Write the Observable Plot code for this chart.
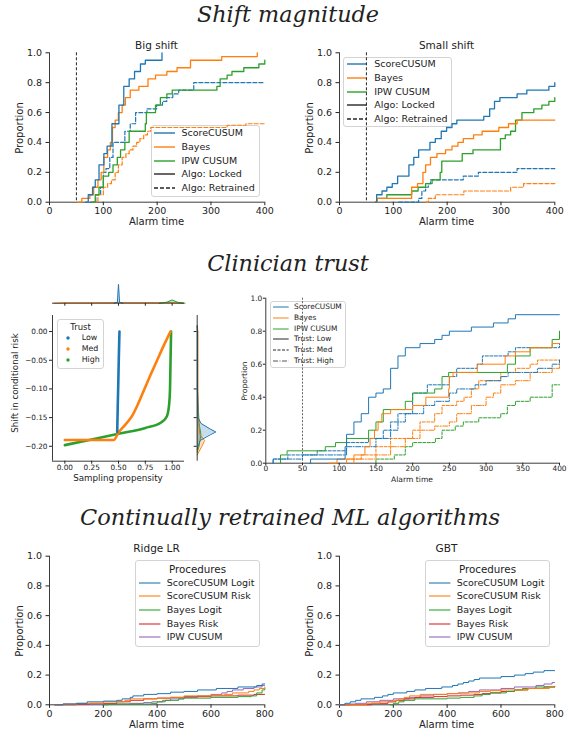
<!DOCTYPE html>
<html><head><meta charset="utf-8">
<script src="https://cdn.jsdelivr.net/npm/d3@7"></script>
<script src="https://cdn.jsdelivr.net/npm/@observablehq/plot@0.6"></script>
<style>
body{margin:0;background:#fff;}
#root{position:relative;width:575px;height:737px;overflow:hidden;font-family:"DejaVu Sans",sans-serif;color:#222;background:#fff;}
.t{position:absolute;white-space:nowrap;line-height:1;color:#222;}
.leg{position:absolute;background:rgba(255,255,255,0.8);border:1px solid #d4d4d4;border-radius:3px;box-sizing:border-box;}
</style></head><body><div id="root"></div>
<script>
// ---------- tick labels ----------
const shiftTicks = [0, 100, 200, 300, 400];
const trustTicks = [0, 50, 100, 150, 200, 250, 300, 350, 400];
const mlTicks = [0, 200, 400, 600, 800];
const propTicks = [0, 0.2, 0.4, 0.6, 0.8, 1.0];
const propensityTicks = [0, 0.25, 0.5, 0.75, 1.0];
const riskTicks = [-0.2, -0.15, -0.1, -0.05, 0];
const changeTime = [50];

// ---------- Shift magnitude: Big shift [alarm time, proportion] ----------
const bigScoreLocked = [[67,0],[72,0.05],[80,0.1],[85,0.15],[92,0.25],[101,0.325],[107,0.375],[116,0.525],[129,0.65],[138,0.775],[148,0.825],[158,0.875],[169,0.925],[178,0.95],[209,1.0]];
const bigBayesLocked = [[53,0],[60,0.025],[75,0.05],[82,0.1],[90,0.15],[96,0.2],[101,0.3],[108,0.35],[113,0.4],[117,0.5],[122,0.55],[128,0.6],[135,0.65],[141,0.7],[150,0.75],[166,0.775],[183,0.825],[197,0.85],[218,0.875],[237,0.9],[262,0.95],[320,0.975],[386,1.0]];
const bigIpwLocked = [[80,0],[85,0.05],[92,0.1],[100,0.175],[110,0.2],[118,0.25],[126,0.3],[132,0.35],[140,0.4],[148,0.475],[178,0.525],[180,0.6],[197,0.65],[206,0.7],[218,0.725],[228,0.75],[311,0.775],[317,0.825],[330,0.85],[339,0.875],[361,0.9],[389,0.925],[400,0.95]];
const bigScoreRetrained = [[76,0],[86,0.05],[95,0.1],[100,0.2],[105,0.225],[112,0.3],[118,0.4],[140,0.475],[150,0.525],[160,0.6],[181,0.625],[199,0.65],[210,0.675],[218,0.7],[229,0.725],[240,0.75],[268,0.8],[400,0.8]];
const bigBayesRetrained = [[80,0],[90,0.05],[100,0.1],[108,0.125],[115,0.15],[122,0.2],[128,0.25],[135,0.3],[142,0.325],[148,0.35],[155,0.375],[162,0.4],[168,0.425],[175,0.45],[182,0.475],[188,0.5],[330,0.515],[365,0.525],[400,0.525]];

// ---------- Shift magnitude: Small shift ----------
const smallScoreLocked = [[67,0],[69,0.05],[79,0.075],[88,0.1],[98,0.125],[108,0.175],[129,0.25],[138,0.3],[147,0.35],[168,0.4],[178,0.425],[189,0.475],[199,0.5],[209,0.525],[218,0.55],[268,0.575],[279,0.625],[288,0.675],[298,0.7],[330,0.725],[348,0.75],[389,0.775],[400,0.8]];
const smallBayesLocked = [[67,0],[70,0.025],[134,0.1],[145,0.125],[155,0.2],[160,0.25],[169,0.3],[181,0.325],[197,0.35],[209,0.375],[220,0.4],[230,0.425],[249,0.45],[265,0.475],[296,0.5],[314,0.525],[330,0.55],[400,0.55]];
const smallIpwLocked = [[67,0],[70,0.025],[88,0.05],[134,0.075],[146,0.1],[160,0.125],[172,0.15],[187,0.2],[190,0.275],[228,0.325],[248,0.35],[299,0.425],[308,0.45],[318,0.475],[327,0.55],[339,0.6],[361,0.625],[376,0.65],[389,0.675],[400,0.7]];
const smallScoreRetrained = [[110,0],[147,0.025],[153,0.075],[160,0.1],[165,0.125],[169,0.15],[230,0.175],[258,0.2],[330,0.225],[400,0.225]];
const smallBayesRetrained = [[160,0],[165,0.025],[178,0.05],[231,0.075],[318,0.1],[342,0.125],[400,0.125]];

// ---------- Clinician trust: sampling propensity vs shift ----------
const scatterLow = [[0.488,-0.175],[0.493,-0.13],[0.498,-0.09],[0.503,-0.045],[0.509,0.0]];
const scatterMed = [[0.0,-0.189],[0.456,-0.189],[0.5,-0.176],[0.56,-0.163],[0.627,-0.147],[0.685,-0.125],[0.742,-0.1],[0.8,-0.075],[0.86,-0.05],[0.92,-0.025],[0.984,0.0]];
const scatterHigh = [[0.0,-0.198],[0.25,-0.188],[0.5,-0.178],[0.75,-0.168],[0.9,-0.158],[0.95,-0.148],[0.97,-0.13],[0.98,-0.1],[0.985,-0.05],[0.99,0.0]];
const topDensityLow = [[0.46,0],[0.49,0.05],[0.5,1.0],[0.51,0.05],[0.54,0]];
const topDensityMed = [[-0.1,0],[0.0,0.02],[0.5,0.03],[1.0,0.03],[1.1,0]];
const topDensityHigh = [[0.88,0],[0.95,0.05],[1.0,0.17],[1.05,0.05],[1.12,0]];
const sideDensityLow = [[-0.205,0],[-0.19,0.15],[-0.18,0.7],[-0.175,1.0],[-0.17,0.7],[-0.16,0.2],[-0.15,0.05],[-0.1,0.02],[0.0,0.02],[0.01,0]];
const sideDensityMed = [[-0.215,0],[-0.2,0.25],[-0.19,0.4],[-0.18,0.15],[-0.15,0.05],[-0.1,0.04],[-0.05,0.04],[0.0,0.04],[0.01,0]];
const sideDensityHigh = [[-0.21,0],[-0.2,0.1],[-0.18,0.2],[-0.16,0.1],[-0.1,0.01],[0.0,0.01],[0.01,0]];

// ---------- Clinician trust: alarm times ----------
const trustScoreLow = [[60,0],[61,0.025],[108,0.1],[110,0.175],[120,0.25],[130,0.3],[140,0.4],[150,0.425],[160,0.45],[170,0.575],[180,0.65],[190,0.7],[210,0.725],[230,0.75],[240,0.775],[250,0.8],[280,0.825],[310,0.85],[330,0.875],[340,0.9],[400,0.9]];
const trustScoreMed = [[10,0],[10,0.025],[30,0.05],[70,0.075],[110,0.125],[140,0.15],[160,0.2],[170,0.25],[180,0.3],[200,0.425],[220,0.475],[250,0.525],[260,0.575],[288,0.6],[295,0.65],[330,0.675],[340,0.7],[400,0.725]];
const trustScoreHigh = [[10,0],[10,0.025],[50,0.05],[110,0.1],[150,0.15],[170,0.2],[180,0.25],[190,0.3],[215,0.35],[230,0.375],[250,0.425],[260,0.45],[285,0.475],[300,0.5],[320,0.525],[330,0.55],[370,0.575],[390,0.6],[400,0.625]];
const trustBayesLow = [[86,0],[97,0.025],[120,0.05],[135,0.1],[142,0.15],[148,0.2],[153,0.25],[158,0.3],[170,0.325],[200,0.35],[218,0.4],[249,0.45],[250,0.525],[255,0.55],[288,0.6],[326,0.65],[340,0.675],[360,0.7],[390,0.725],[400,0.725]];
const trustBayesMed = [[110,0],[110,0.025],[130,0.05],[150,0.1],[170,0.15],[200,0.2],[210,0.25],[230,0.3],[240,0.35],[260,0.375],[270,0.4],[280,0.45],[290,0.5],[320,0.55],[340,0.575],[360,0.6],[370,0.625],[400,0.625]];
const trustBayesHigh = [[120,0],[120,0.025],[150,0.05],[170,0.1],[190,0.15],[210,0.2],[230,0.225],[250,0.25],[260,0.3],[280,0.35],[300,0.4],[310,0.425],[320,0.475],[340,0.5],[360,0.55],[390,0.575],[400,0.6]];
const trustIpwLow = [[20,0],[20,0.05],[29,0.075],[81,0.1],[95,0.125],[110,0.15],[140,0.2],[150,0.25],[160,0.325],[190,0.375],[200,0.425],[230,0.45],[240,0.525],[249,0.55],[329,0.6],[340,0.65],[360,0.7],[390,0.75],[400,0.8]];
const trustIpwMed = [[150,0],[150,0.025],[175,0.05],[190,0.1],[200,0.125],[231,0.15],[240,0.2],[258,0.225],[269,0.25],[290,0.275],[320,0.3],[329,0.35],[340,0.375],[360,0.4],[390,0.475],[400,0.475]];

// ---------- Continually retrained ML: Ridge LR ----------
const ridgeScoreLogit = [[20,0],[50,0.005],[100,0.01],[140,0.02],[200,0.025],[250,0.03],[270,0.04],[300,0.05],[310,0.06],[350,0.07],[400,0.075],[450,0.085],[500,0.09],[550,0.1],[620,0.11],[700,0.12],[770,0.13],[790,0.14],[800,0.14]];
const ridgeScoreRisk = [[20,0],[100,0.01],[200,0.02],[280,0.03],[300,0.04],[400,0.045],[450,0.05],[500,0.06],[600,0.065],[650,0.07],[680,0.08],[740,0.09],[760,0.1],[780,0.11],[800,0.12]];
const ridgeBayesLogit = [[200,0],[220,0.005],[380,0.01],[400,0.02],[430,0.03],[480,0.04],[500,0.045],[600,0.05],[700,0.055],[750,0.06],[770,0.08],[790,0.1],[800,0.11]];
const ridgeBayesRisk = [[20,0],[50,0.005],[150,0.01],[250,0.02],[300,0.03],[350,0.04],[400,0.045],[450,0.05],[500,0.055],[600,0.06],[700,0.065],[760,0.07],[800,0.07]];
const ridgeIpw = [[20,0],[100,0.005],[300,0.01],[350,0.015],[380,0.02],[420,0.03],[450,0.04],[500,0.05],[550,0.06],[600,0.07],[640,0.08],[660,0.09],[680,0.1],[720,0.11],[760,0.12],[790,0.13],[800,0.13]];

// ---------- Continually retrained ML: GBT ----------
const gbtScoreLogit = [[0,0],[20,0.01],[40,0.02],[60,0.03],[80,0.04],[130,0.05],[160,0.06],[180,0.07],[200,0.08],[250,0.09],[280,0.1],[320,0.11],[380,0.12],[420,0.13],[440,0.14],[460,0.15],[480,0.16],[500,0.17],[520,0.18],[600,0.19],[650,0.2],[690,0.21],[720,0.22],[760,0.23],[800,0.23]];
const gbtScoreRisk = [[0,0],[100,0.01],[150,0.02],[200,0.03],[220,0.04],[240,0.05],[260,0.06],[300,0.07],[400,0.075],[450,0.08],[520,0.09],[560,0.095],[600,0.1],[700,0.11],[780,0.12],[800,0.12]];
const gbtBayesLogit = [[190,0],[200,0.01],[220,0.02],[240,0.03],[280,0.04],[400,0.045],[450,0.05],[500,0.06],[530,0.07],[560,0.08],[620,0.09],[650,0.1],[680,0.11],[730,0.12],[800,0.125]];
const gbtBayesRisk = [[0,0],[120,0.01],[180,0.02],[210,0.03],[240,0.04],[280,0.05],[350,0.055],[400,0.06],[450,0.065],[500,0.07],[530,0.075],[560,0.08],[600,0.09],[650,0.1],[700,0.11],[760,0.12],[800,0.12]];
const gbtIpw = [[0,0],[40,0.005],[60,0.01],[100,0.02],[150,0.03],[200,0.04],[260,0.05],[300,0.06],[350,0.07],[400,0.075],[440,0.08],[480,0.09],[520,0.1],[600,0.11],[650,0.12],[730,0.13],[760,0.14],[790,0.15],[800,0.15]];

// ---------- helpers ----------
const root = document.getElementById("root");
const C = {blue:"#1f77b4", orange:"#ff7f0e", green:"#2ca02c", red:"#d62728", purple:"#9467bd", ink:"#262626"};
const SANS = '"DejaVu Sans", sans-serif';
const SERIF = '"DejaVu Serif", serif';

function txt(s, x, y, o = {}) {
  const d = document.createElement("div");
  d.className = "t"; d.textContent = s;
  d.style.left = x + "px"; d.style.top = y + "px";
  d.style.fontSize = (o.size || 10) + "px";
  d.style.fontFamily = o.family || SANS;
  if (o.italic) d.style.fontStyle = "italic";
  const ax = o.anchor === "start" ? "0" : o.anchor === "end" ? "-100%" : "-50%";
  d.style.transform = `translate(${ax},-50%)` + (o.rotate ? ` rotate(${o.rotate}deg)` : "");
  root.appendChild(d);
}
function box(x0, y0, x1, y1) {
  const d = document.createElement("div");
  d.className = "leg";
  Object.assign(d.style, {left: x0 + "px", top: y0 + "px", width: (x1 - x0) + "px", height: (y1 - y0) + "px"});
  root.appendChild(d);
}
function swatch(x0, x1, y, color, dash, w) {
  const s = d3.create("svg").attr("width", x1 - x0).attr("height", 6)
    .style("position", "absolute").style("left", x0 + "px").style("top", (y - 3) + "px");
  s.append("line").attr("x1", 0).attr("x2", x1 - x0).attr("y1", 3).attr("y2", 3)
    .attr("stroke", color).attr("stroke-width", w || 1.3).attr("stroke-dasharray", dash || null);
  root.appendChild(s.node());
}
function dotSwatch(x, y, color) {
  const s = d3.create("svg").attr("width", 6).attr("height", 6)
    .style("position", "absolute").style("left", (x - 3) + "px").style("top", (y - 3) + "px");
  s.append("circle").attr("cx", 3).attr("cy", 3).attr("r", 1.7).attr("fill", color);
  root.appendChild(s.node());
}
function legend(b, rows, sx0, sx1, tx, size, w) {
  box(...b);
  for (const r of rows) {
    if (r.dot) dotSwatch((sx0 + sx1) / 2, r.y, r.color); else swatch(sx0, sx1, r.y, r.color, r.dash, w);
    txt(r.label, tx, r.y, {size, anchor: "start"});
  }
}
function place(svg, L, T) {
  svg.style.position = "absolute"; svg.style.left = L + "px"; svg.style.top = T + "px";
  root.appendChild(svg);
}
const step = (data, color, w, dash) => Plot.line(data, {x: d => d[0], y: d => d[1], curve: "step-after", stroke: color, strokeWidth: w, strokeDasharray: dash});

function panel(cfg) {
  const {box: [L, T, W, H], frame: [fx0, fx1, fy0, fy1], xDomain, yDomain, xTicks, yTicks, xFmt, yFmt, fs, tick, xPad, yPad, marks} = cfg;
  const svg = Plot.plot({
    width: W, height: H,
    marginLeft: fx0 - L, marginRight: L + W - fx1, marginTop: fy0 - T, marginBottom: T + H - fy1,
    x: {domain: xDomain}, y: {domain: yDomain},
    style: {background: "transparent", overflow: "visible", fontFamily: SANS, fontSize: fs + "px", color: "#222"},
    marks: [
      Plot.axisX({ticks: xTicks, tickFormat: xFmt, tickSize: tick, tickPadding: xPad, fontSize: fs, label: null}),
      Plot.axisY({ticks: yTicks, tickFormat: yFmt, tickSize: tick, tickPadding: yPad, fontSize: fs, label: null}),
      Plot.ruleX([xDomain[0]], {stroke: C.ink, strokeWidth: 0.9}),
      Plot.ruleY([yDomain[0]], {stroke: C.ink, strokeWidth: 0.9}),
      ...marks
    ]
  });
  place(svg, L, T);
}
const f1 = d3.format(".1f"), f2 = d3.format(".2f"), fi = d => String(d);

// ---------- section titles ----------
txt("Shift magnitude", 288, 14, {size: 22.3, family: SERIF, italic: true});
txt("Clinician trust", 288, 263, {size: 22.3, family: SERIF, italic: true});
txt("Continually retrained ML algorithms", 290, 517, {size: 22.5, family: SERIF, italic: true});

// ---------- Big shift ----------
legend([151, 125, 260, 197], [
  {label: "ScoreCUSUM", color: C.blue, y: 133},
  {label: "Bayes", color: C.orange, y: 147},
  {label: "IPW CUSUM", color: C.green, y: 160.7},
  {label: "Algo: Locked", color: C.ink, y: 174.3},
  {label: "Algo: Retrained", color: C.ink, dash: "4,2", y: 188}
], 153.5, 174.5, 181.5, 9.5, 1.4);
panel({box: [0, 40, 285, 180], frame: [49, 264.3, 52.3, 201.7], xDomain: [0, 400], yDomain: [0, 1],
  xTicks: shiftTicks, yTicks: propTicks, xFmt: fi, yFmt: f1, fs: 9.5, tick: 3.5, xPad: 2, yPad: 4,
  marks: [
    Plot.ruleX(changeTime, {stroke: C.ink, strokeWidth: 1, strokeDasharray: "3,2"}),
    step(bigScoreRetrained, C.blue, 1.2, "4,2"),
    step(bigBayesRetrained, C.orange, 1.2, "4,2"),
    step(bigIpwLocked, C.green, 1.3),
    step(bigBayesLocked, C.orange, 1.3),
    step(bigScoreLocked, C.blue, 1.3)
  ]});
txt("Big shift", 156.5, 45, {size: 10.5});
txt("Alarm time", 156.5, 222, {size: 10});
txt("Proportion", 20, 128, {size: 10, rotate: -90});

// ---------- Small shift ----------
legend([343.3, 57.3, 452.3, 127], [
  {label: "ScoreCUSUM", color: C.blue, y: 64},
  {label: "Bayes", color: C.orange, y: 78},
  {label: "IPW CUSUM", color: C.green, y: 91.5},
  {label: "Algo: Locked", color: C.ink, y: 105.3},
  {label: "Algo: Retrained", color: C.ink, dash: "4,2", y: 119}
], 346.7, 367.3, 374.3, 9.5, 1.4);
panel({box: [290, 40, 285, 180], frame: [339, 554.3, 52.3, 201.7], xDomain: [0, 400], yDomain: [0, 1],
  xTicks: shiftTicks, yTicks: propTicks, xFmt: fi, yFmt: f1, fs: 9.5, tick: 3.5, xPad: 2, yPad: 4,
  marks: [
    Plot.ruleX(changeTime, {stroke: C.ink, strokeWidth: 1, strokeDasharray: "3,2"}),
    step(smallScoreRetrained, C.blue, 1.2, "4,2"),
    step(smallBayesRetrained, C.orange, 1.2, "4,2"),
    step(smallIpwLocked, C.green, 1.3),
    step(smallBayesLocked, C.orange, 1.3),
    step(smallScoreLocked, C.blue, 1.3)
  ]});
txt("Small shift", 446.5, 45, {size: 10.5});
txt("Alarm time", 446.5, 222, {size: 10});
txt("Proportion", 310, 128, {size: 10, rotate: -90});

// ---------- Clinician trust: joint plot ----------
const jx = [-0.115, 1.115], jy = [-0.226, 0.028];
legend([56.7, 319.3, 104, 368.7], [
  {label: "Low", color: C.blue, dot: true, y: 338.3},
  {label: "Med", color: C.orange, dot: true, y: 349},
  {label: "High", color: C.green, dot: true, y: 359.8}
], 64, 71, 81.7, 7.9);
txt("Trust", 80.5, 326.5, {size: 8.5});
panel({box: [0, 300, 200, 185], frame: [52, 184, 315, 460.7], xDomain: jx, yDomain: jy,
  xTicks: propensityTicks, yTicks: riskTicks, xFmt: f2, yFmt: f2, fs: 7.3, tick: 3, xPad: 1, yPad: 2,
  marks: [
    Plot.line(scatterHigh, {x: d => d[0], y: d => d[1], curve: "monotone-x", stroke: C.green, strokeWidth: 2.6, strokeLinecap: "round"}),
    Plot.line(scatterMed, {x: d => d[0], y: d => d[1], curve: "monotone-x", stroke: C.orange, strokeWidth: 2.6, strokeLinecap: "round"}),
    Plot.line(scatterLow, {x: d => d[0], y: d => d[1], stroke: C.blue, strokeWidth: 2.6, strokeLinecap: "round"})
  ]});
txt("Sampling propensity", 118, 477.7, {size: 8.7});
txt("Shift in conditional risk", 15, 383, {size: 8.7, rotate: -90});

// top marginal density
place(Plot.plot({
  width: 200, height: 30, marginLeft: 52, marginRight: 16, marginTop: 4, marginBottom: 5.3,
  x: {domain: jx}, y: {domain: [0, 1.1]},
  style: {background: "transparent", overflow: "visible"},
  marks: [
    Plot.axisX({ticks: propensityTicks, tickFormat: () => "", tickSize: 3, label: null}),
    Plot.axisY({ticks: [], label: null}),
    ...[[topDensityMed, C.orange], [topDensityHigh, C.green], [topDensityLow, C.blue]].flatMap(([d, c]) => [
      Plot.areaY(d, {x: p => p[0], y: p => p[1], fill: c, fillOpacity: 0.25}),
      Plot.line(d, {x: p => p[0], y: p => p[1], stroke: c, strokeWidth: 1})
    ]),
    Plot.ruleY([0], {stroke: C.ink, strokeWidth: 0.9})
  ]
}), 0, 278);

// right marginal density
place(Plot.plot({
  width: 40, height: 185, marginLeft: 6.7, marginRight: 10, marginTop: 15, marginBottom: 24.3,
  x: {domain: [0, 1.25]}, y: {domain: jy},
  style: {background: "transparent", overflow: "visible"},
  marks: [
    Plot.axisY({ticks: riskTicks, tickFormat: () => "", tickSize: 3, label: null}),
    Plot.axisX({ticks: [], label: null}),
    ...[[sideDensityHigh, C.green], [sideDensityMed, C.orange], [sideDensityLow, C.blue]].flatMap(([d, c]) => [
      Plot.areaX(d, {y: p => p[0], x: p => p[1], fill: c, fillOpacity: 0.25}),
      Plot.line(d, {y: p => p[0], x: p => p[1], stroke: c, strokeWidth: 1})
    ]),
    Plot.ruleX([0], {stroke: C.ink, strokeWidth: 0.9})
  ]
}), 190, 300);

// ---------- Clinician trust: alarm times ----------
const MED = "3,1.5", HIGH = "5,1.5,1,1.5";
legend([270.3, 301, 346.3, 368.3], [
  {label: "ScoreCUSUM", color: C.blue, y: 306.7},
  {label: "Bayes", color: C.orange, y: 317.7},
  {label: "IPW CUSUM", color: C.green, y: 328.7},
  {label: "Trust: Low", color: C.ink, y: 339.3},
  {label: "Trust: Med", color: C.ink, dash: MED, y: 350.3},
  {label: "Trust: High", color: "#555", dash: HIGH, y: 361}
], 273, 288.7, 294, 7.4, 1);
panel({box: [205, 285, 370, 195], frame: [265.3, 559, 297.7, 462.7], xDomain: [0, 400], yDomain: [0, 1],
  xTicks: trustTicks, yTicks: propTicks, xFmt: fi, yFmt: f1, fs: 7.4, tick: 2.5, xPad: 0.3, yPad: 1,
  marks: [
    Plot.ruleX(changeTime, {stroke: "#666", strokeWidth: 1, strokeDasharray: "2,1.5"}),
    step(trustIpwMed, C.green, 1, MED),
    step(trustBayesHigh, C.orange, 1, HIGH),
    step(trustBayesMed, C.orange, 1, MED),
    step(trustScoreHigh, C.blue, 1, HIGH),
    step(trustScoreMed, C.blue, 1, MED),
    step(trustIpwLow, C.green, 1),
    step(trustBayesLow, C.orange, 1),
    step(trustScoreLow, C.blue, 1)
  ]});
txt("Alarm time", 412, 479.5, {size: 7.6});
txt("Proportion", 244.5, 381, {size: 7.6, rotate: -90});

// ---------- Continually retrained ML ----------
const mlRows = [
  {label: "ScoreCUSUM Logit", color: C.blue, y: 582.7},
  {label: "ScoreCUSUM Risk", color: C.orange, y: 596.3},
  {label: "Bayes Logit", color: C.green, y: 610.3},
  {label: "Bayes Risk", color: C.red, y: 623.7},
  {label: "IPW CUSUM", color: C.purple, y: 637.3}
];
const mlPanel = (dx, title, series) => {
  legend([135 + dx, 560, 260 + dx, 646.7], mlRows, 139.3 + dx, 160.7 + dx, 166.7 + dx, 9.5, 1.1);
  txt("Procedures", 197.5 + dx, 568.5, {size: 10.3});
  panel({box: [dx, 545, 285, 180], frame: [49 + dx, 264.3 + dx, 555.7, 704.3], xDomain: [0, 800], yDomain: [0, 1],
    xTicks: mlTicks, yTicks: propTicks, xFmt: fi, yFmt: f1, fs: 9.5, tick: 3.5, xPad: 2, yPad: 4,
    marks: series.map(([d, c]) => step(d, c, 1))});
  txt(title, 156.5 + dx, 548, {size: 10.5});
  txt("Alarm time", 156.5 + dx, 725, {size: 10});
  txt("Proportion", 20 + dx, 631, {size: 10, rotate: -90});
};
mlPanel(0, "Ridge LR", [[ridgeIpw, C.purple], [ridgeBayesRisk, C.red], [ridgeBayesLogit, C.green], [ridgeScoreRisk, C.orange], [ridgeScoreLogit, C.blue]]);
mlPanel(290, "GBT", [[gbtIpw, C.purple], [gbtBayesRisk, C.red], [gbtBayesLogit, C.green], [gbtScoreRisk, C.orange], [gbtScoreLogit, C.blue]]);
</script></body></html>
